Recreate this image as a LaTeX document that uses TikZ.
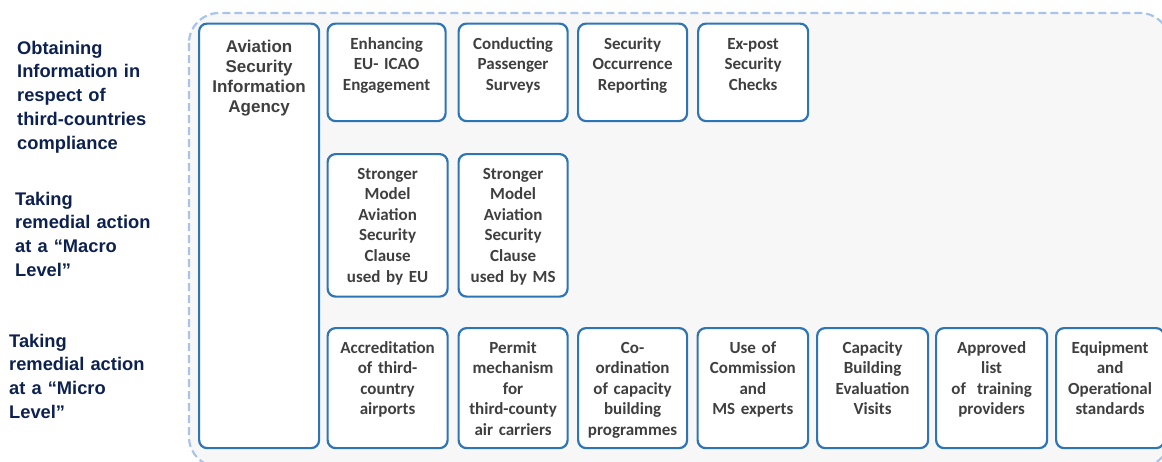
\documentclass[tikz,border=0pt]{standalone}
\usepackage{fontspec}
\newfontfamily\labfont{Liberation Sans}
\newfontfamily\boxfont{Carlito}
\definecolor{navy}{HTML}{0D2150}
\definecolor{boxtext}{HTML}{3F3F3F}
\definecolor{boxblue}{HTML}{2E75B6}
\definecolor{dashblue}{HTML}{A8C4EA}
\definecolor{panel}{HTML}{F7F7F7}
\tikzset{
  bx/.style={draw=boxblue, line width=2.2pt, rounded corners=8pt, fill=white,
    inner sep=0pt, anchor=north west},
  bt/.style={text=boxtext, font=\boxfont\bfseries\fontsize{17}{20.6}\selectfont,
    align=center, inner sep=0pt, anchor=base},
  lab/.style={text=navy, font=\labfont\bfseries\fontsize{18.3}{23.8}\selectfont,
    align=left, text width=150pt, inner sep=0pt, anchor=base west},
  panelbox/.style={draw=dashblue, line width=2.2pt, dash pattern=on 8pt off 4pt,
    fill=panel, rounded corners=30pt}
}
\begin{document}
\begin{tikzpicture}[x=1pt,y=-1pt]
\useasboundingbox (0,0) rectangle (1162,461);
\draw[panelbox] (189,13) rectangle (1170,467);

% left labels
\node[lab] (l1) at (17,54) {Obtaining\\Information in\\respect of\\third-countries\\compliance};
\node[lab] (l2) at (15,205) {Taking\\remedial action\\at a “Macro\\Level”};
\node[lab] (l3) at (9,347) {Taking\\remedial action\\at a “Micro\\Level”};

% agency column
\node[bx, minimum width=120pt, minimum height=424.5pt] (asia) at (198,22.5) {};
\node[bt, text width=116pt, font=\labfont\bfseries\fontsize{17}{20}\selectfont] (asiat)
  at ([yshift=-29.5pt]asia.north) {Aviation\\Security\\Information\\Agency};

% top row
\node[bx, minimum width=118pt, minimum height=97.5pt] (t1) at (326.5,22.5) {};
\node[bx, minimum width=109pt, minimum height=97.5pt] (t2) at (457.5,22.5) {};
\node[bx, minimum width=109pt, minimum height=97.5pt] (t3) at (577,22.5) {};
\node[bx, minimum width=110pt, minimum height=97.5pt] (t4) at (697,22.5) {};
\node[bt, text width=114pt] (t1t) at ([yshift=-26.5pt]t1.north) {Enhancing\\EU- ICAO\\Engagement};
\node[bt, text width=105pt] (t2t) at ([yshift=-26.5pt]t2.north) {Conducting\\Passenger\\Surveys};
\node[bt, text width=105pt] (t3t) at ([yshift=-26.5pt]t3.north) {Security\\Occurrence\\Reporting};
\node[bt, text width=106pt] (t4t) at ([yshift=-26.5pt]t4.north) {Ex-post\\Security\\Checks};

% middle row
\node[bx, minimum width=120pt, minimum height=142.5pt] (m1) at (326.5,153) {};
\node[bx, minimum width=109pt, minimum height=142.5pt] (m2) at (457.5,153) {};
\node[bt, text width=116pt] (m1t) at ([yshift=-26pt]m1.north) {Stronger\\Model\\Aviation\\Security\\Clause\\used by EU};
\node[bt, text width=105pt] (m2t) at ([yshift=-26pt]m2.north) {Stronger\\Model\\Aviation\\Security\\Clause\\used by MS};

% bottom row
\node[bx, minimum width=120pt, minimum height=120pt] (b1) at (326.5,327) {};
\node[bx, minimum width=109pt, minimum height=120pt] (b2) at (457.5,327) {};
\node[bx, minimum width=109pt, minimum height=120pt] (b3) at (577,327) {};
\node[bx, minimum width=110.5pt, minimum height=120pt] (b4) at (696.5,327) {};
\node[bx, minimum width=111pt, minimum height=120pt] (b5) at (816,327) {};
\node[bx, minimum width=111pt, minimum height=120pt] (b6) at (935,327) {};
\node[bx, minimum width=108pt, minimum height=120pt] (b7) at (1055,327) {};
\node[bt, text width=116pt] (b1t) at ([yshift=-26pt]b1.north) {Accreditation\\of third-\\country\\airports};
\node[bt, text width=105pt] (b2t) at ([yshift=-26pt]b2.north) {Permit\\mechanism\\for\\third-county\\air carriers};
\node[bt, text width=105pt] (b3t) at ([yshift=-26pt]b3.north) {Co-\\ordination\\of capacity\\building\\programmes};
\node[bt, text width=106pt] (b4t) at ([yshift=-26pt]b4.north) {Use of\\Commission\\and\\MS experts};
\node[bt, text width=107pt] (b5t) at ([yshift=-26pt]b5.north) {Capacity\\Building\\Evaluation\\Visits};
\node[bt, text width=107pt] (b6t) at ([yshift=-26pt]b6.north) {Approved\\list\\of~~training\\providers};
\node[bt, text width=104pt] (b7t) at ([yshift=-26pt]b7.north) {Equipment\\and\\Operational\\standards};
\end{tikzpicture}
\end{document}
